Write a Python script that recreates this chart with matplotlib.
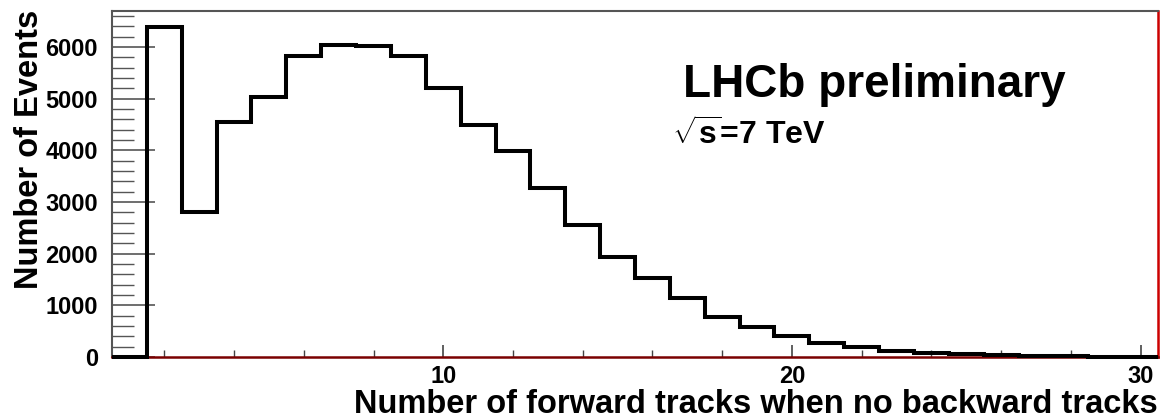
import matplotlib
matplotlib.use("Agg")
import matplotlib.pyplot as plt
import numpy as np
from matplotlib.ticker import MultipleLocator

# Data: bins centered on integers 1..30 (width 1)
bin_centers = list(range(1, 31))
counts = [0, 6390, 2810, 4560, 5035, 5830, 6050, 6020, 5820, 5200,
          4490, 3990, 3265, 2553, 1940, 1522, 1135, 780, 586, 406,
          265, 200, 122, 83, 58, 35, 18, 10, 5, 3]
x_label = "Number of forward tracks when no backward tracks"
y_label = "Number of Events"
title_text = "LHCb preliminary"
energy_text = r"$\sqrt{\mathrm{s}}$=7 TeV"

plt.rcParams['font.family'] = ['Liberation Sans', 'DejaVu Sans']
plt.rcParams['font.weight'] = 'bold'
plt.rcParams['mathtext.fontset'] = 'custom'
plt.rcParams['mathtext.rm'] = 'Liberation Sans:bold'
plt.rcParams['mathtext.it'] = 'Liberation Sans:bold'
plt.rcParams['mathtext.bf'] = 'Liberation Sans:bold'

W, H = 1163, 419
fig = plt.figure(figsize=(W / 100, H / 100), dpi=100)
ax = fig.add_axes([112 / W, (H - 357) / H, (1158 - 112) / W, (357 - 11) / H])

edges = np.array(bin_centers, dtype=float) - 0.5
edges = np.append(edges, bin_centers[-1] + 0.5)
ax.stairs(counts, edges, color='black', linewidth=2.9, baseline=0, zorder=3,
          clip_on=False)

ax.set_xlim(0.5, 30.5)
ax.set_ylim(0, 6700)

ax.xaxis.set_major_locator(MultipleLocator(10))
ax.xaxis.set_minor_locator(MultipleLocator(2))
ax.yaxis.set_major_locator(MultipleLocator(1000))
ax.yaxis.set_minor_locator(MultipleLocator(200))

ax.tick_params(axis='x', which='major', direction='in', length=9, width=1.2,
               color='#444444', labelsize=17, pad=6, top=False)
ax.tick_params(axis='x', which='minor', direction='in', length=5, width=1.0,
               color='#444444', top=False)
ax.tick_params(axis='y', which='major', direction='in', length=31, width=1.2,
               color='#555555', labelsize=17, pad=10, right=False)
ax.tick_params(axis='y', which='minor', direction='in', length=16, width=1.0,
               color='#555555', right=False)
for lbl in ax.get_xticklabels() + ax.get_yticklabels():
    lbl.set_fontweight('bold')

ax.spines['top'].set_color('#555555')
ax.spines['left'].set_color('#555555')
ax.spines['top'].set_linewidth(1.5)
ax.spines['left'].set_linewidth(1.5)
ax.spines['bottom'].set_color('#7a0000')
ax.spines['bottom'].set_linewidth(1.8)
ax.spines['right'].set_color('#cc0000')
ax.spines['right'].set_linewidth(1.8)

fig.text(1158 / W, 1 - 413 / H, x_label, fontsize=23.5, fontweight='bold',
         ha='right', va='baseline')
fig.text(30 / W, 1 - 10 / H, y_label, fontsize=23.5, fontweight='bold',
         ha='center', va='top', rotation=90)

fig.text(683 / W, 1 - 97 / H, title_text, fontsize=33, fontweight='bold',
         ha='left', va='baseline')
fig.text(672 / W, 1 - 145 / H, energy_text, fontsize=23, fontweight='bold',
         ha='left', va='baseline')

fig.savefig("out.png", dpi=100)
